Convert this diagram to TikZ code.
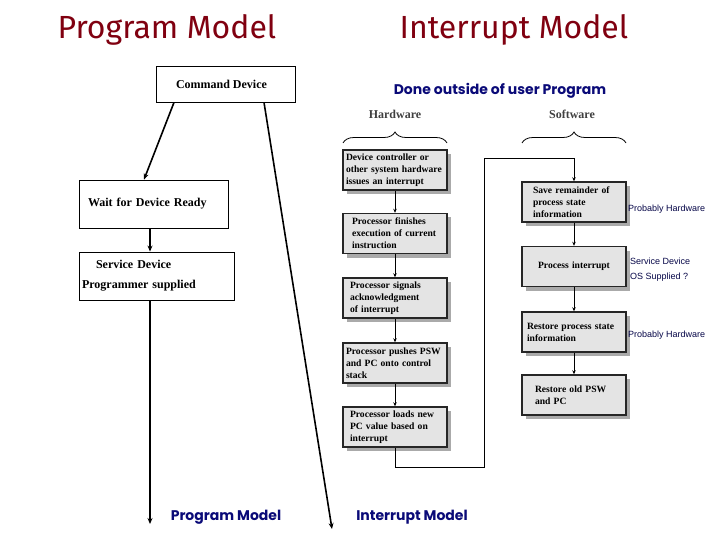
\documentclass[tikz,border=0pt]{standalone}
\usepackage{fontspec}
\setmainfont{Liberation Serif}
\newfontfamily\titlefont{Fira Sans}
\newfontfamily\labfont{Poppins}
\newfontfamily\smallfont{Liberation Sans}
\usetikzlibrary{arrows.meta,decorations.pathreplacing,shadows}
\definecolor{maroonT}{RGB}{128,0,16}
\definecolor{navyT}{RGB}{10,10,120}
\definecolor{boxgray}{RGB}{228,228,228}
\definecolor{shadowgray}{RGB}{170,170,170}
\hyphenpenalty=10000
\exhyphenpenalty=10000
\begin{document}
\begin{tikzpicture}[x=1pt,y=-1pt,
  titletext/.style={font=\titlefont\fontsize{32}{34}\selectfont,text=maroonT},
  bluetext/.style={font=\labfont\bfseries\fontsize{14}{16}\selectfont,text=navyT},
  sidetext/.style={font=\smallfont\fontsize{9}{10}\selectfont,text=navyT!60!black,anchor=west,inner sep=0pt},
  plainbox/.style={draw=black,line width=0.9pt,font=\bfseries\fontsize{12}{14}\selectfont,minimum height=36pt},
  flowbox/.style={draw=black!85,line width=1.4pt,fill=boxgray,minimum width=104pt,minimum height=40pt,
     text width=98pt,inner xsep=3pt,align=left,font=\bfseries\fontsize{9.6}{12}\selectfont,
     drop shadow={shadow xshift=4pt,shadow yshift=-4pt,fill=shadowgray,opacity=1}},
  fline/.style={line width=0.7pt,-{Stealth[length=4pt,width=3.5pt]}},
  bline/.style={line width=1.6pt,-{Stealth[length=6pt,width=5pt]}},
  bracestyle/.style={decorate,decoration={brace,amplitude=11pt},line width=0.8pt}
]
\useasboundingbox (0,0) rectangle (720,540);
\fill[white] (0,0) rectangle (720,540);

% titles
\node[titletext] (t1) at (167,30) {Program Model};
\node[titletext] (t2) at (514,30) {Interrupt Model};

% program model boxes
\node[plainbox,minimum width=139pt] (cmd) at (225.5,84) {\hspace*{-8pt}Command Device};
\node[plainbox,minimum width=149pt,minimum height=48pt,text width=131pt,inner xsep=9pt,align=left] (wait) at (153.5,204) {Wait for Device Ready};
\node[plainbox,minimum width=155pt,minimum height=48pt,text width=149pt,inner xsep=3pt,align=left] (serv) at (156.5,276) {\hspace*{14pt}Service Device\\[6pt]Programmer supplied};

\coordinate (pend) at (150,524);
\coordinate (iend) at (332,529);
\draw[bline] ([xshift=-51.5pt]cmd.south) -- ([xshift=-9.5pt]wait.north);
\draw[bline] ([xshift=-3.5pt]wait.south) -- ([xshift=-6.5pt]serv.north);
\draw[bline] ([xshift=-6.5pt]serv.south) -- (pend);
\draw[bline] ([xshift=38.5pt]cmd.south) -- (iend);

\node[bluetext] (pm) at (226,517) {Program Model};
\node[bluetext] (im) at (412,517) {Interrupt Model};
\node[bluetext] (done) at (500,91) {Done outside of user Program};

% hardware / software headings
\node[font=\bfseries\fontsize{12}{13}\selectfont,text=black!75] (hw) at (395,114) {Hardware};
\node[font=\bfseries\fontsize{12}{13}\selectfont,text=black!75] (sw) at (572,114) {Software};
\draw[bracestyle] (343,143) -- (447,143);
\draw[bracestyle] (522,143) -- (626,143);

% hardware column
\node[flowbox] (h1) at (395,170) {Device controller or\\other system hardware\\issues an interrupt};
\node[flowbox,inner xsep=9pt,text width=86pt] (h2) at (395,233.5) {Processor finishes\\execution of current\\instruction};
\node[flowbox,inner xsep=7pt,text width=90pt] (h3) at (395,298) {Processor signals\\acknowledgment\\of interrupt};
\node[flowbox] (h4) at (395,363) {Processor pushes PSW\\and PC onto control\\stack};
\node[flowbox,inner xsep=7pt,text width=90pt] (h5) at (395,427) {Processor loads new\\PC value based on\\interrupt};

% software column
\node[flowbox,inner xsep=11pt,text width=82pt] (s1) at (574,202) {Save remainder of\\process state\\information};
\node[flowbox,align=center] (s2) at (574,266.5) {Process interrupt};
\node[flowbox,inner xsep=5pt,text width=94pt] (s3) at (574,332) {Restore process state\\information};
\node[flowbox,inner xsep=13pt,text width=78pt] (s4) at (574,395) {Restore old PSW\\and PC};

\draw[fline] (h1) -- (h2);
\draw[fline] (h2) -- (h3);
\draw[fline] (h3) -- (h4);
\draw[fline] (h4) -- (h5);
\draw[fline] (s1) -- (s2);
\draw[fline] (s2) -- (s3);
\draw[fline] (s3) -- (s4);

\coordinate (c1) at (484,467);
\coordinate (c2) at (484,158);
\draw[fline] (h5.south) |- (c1) -- (c2) -| (s1.north);

% side notes
\node[sidetext] (n1) at (628,209) {Probably Hardware};
\node[sidetext] (n2) at (630,261) {Service Device};
\node[sidetext] (n3) at (630,277) {OS Supplied ?};
\node[sidetext] (n4) at (628,335) {Probably Hardware};
\end{tikzpicture}
\end{document}
